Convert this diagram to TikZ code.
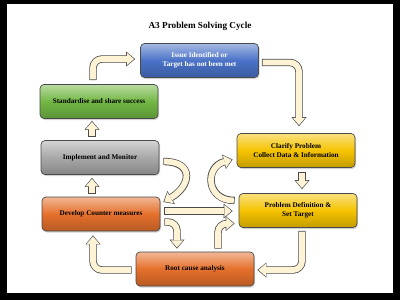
\documentclass[tikz,border=0pt]{standalone}
\usepackage{fontspec}
\setmainfont{Liberation Serif}
\usetikzlibrary{positioning, arrows.meta, shadows}
\definecolor{borde}{HTML}{4A4A4A}
\definecolor{crema}{HTML}{FFF3D6}
\definecolor{azul}{HTML}{4A72C8}
\definecolor{verde}{HTML}{72B744}
\definecolor{gris}{HTML}{A8A8A8}
\definecolor{naranja}{HTML}{E5702C}
\definecolor{amarillo}{HTML}{F5C300}
\tikzset{
	caja/.style={draw=borde, line width=0.7pt, rounded corners=4pt, minimum width=118pt,
		minimum height=34pt, align=center, font=\fontsize{7.2}{8.6}\selectfont\bfseries,
		top color=#1!50!white, bottom color=#1!80!black, middle color=#1,
		drop shadow={shadow xshift=1pt, shadow yshift=-1.5pt, opacity=0.35}},
	flecha/.style={draw=borde, line width=7.4pt, rounded corners=9pt,
		-{Triangle[width=15pt, length=9pt, line width=0pt]},
		postaction={draw=crema, line width=5.8pt, rounded corners=9pt,
			shorten >=1.1pt, shorten <=0.8pt,
			-{Triangle[width=12.6pt, length=7.3pt, line width=0pt]}}}
}
\begin{document}
\begin{tikzpicture}[x=1pt, y=-1pt]
	\useasboundingbox (0,0) rectangle (400,300);
	\fill[black] (0,0) rectangle (400,300);
	\fill[white] (7,4) rectangle (393,293);
	\node[font=\fontsize{9.2}{11}\selectfont\bfseries] (titulo) at (200,26) {A3 Problem Solving Cycle};
	% cajas del ciclo
	\foreach \n/\x/\y/\c/\tc/\t in {problema/199.5/60.5/azul/white/{Issue Identified or\\Target has not been met},
	                                estandar/99/101.5/verde/black/{Standardise and share success},
	                                implementar/100/157.5/gris/black/{Implement and Monitor},
	                                contramedidas/101/214/naranja/black/{Develop Counter measures},
	                                aclarar/296/150.5/amarillo/black/{Clarify Problem\\Collect Data \& Information},
	                                definicion/298/210.5/amarillo/black/{Problem Definition \&\\Set Target},
	                                causa/195/269/naranja/black/{Root cause analysis}} {
		\node[caja=\c, text=\tc] (\n) at (\x,\y) {\t};
	}
	% flechas
	\draw[flecha] ([xshift=-6pt,yshift=4pt]estandar.north) |- ([xshift=-5pt,yshift=1.5pt]problema.west);
	\draw[flecha] ([xshift=3pt,yshift=-2pt]problema.east) -| ([xshift=3pt,yshift=7pt]aclarar.north);
	\draw[flecha] ([xshift=6pt,yshift=-4pt]aclarar.south) -- ([xshift=4pt,yshift=4pt]definicion.north);
	\draw[flecha] ([xshift=4pt,yshift=-3pt]definicion.south) |- ([xshift=3pt,yshift=-1pt]causa.east);
	\draw[flecha] ([xshift=-4pt,yshift=-1pt]causa.west) -| ([xshift=-8pt,yshift=-4pt]contramedidas.south);
	\draw[flecha] ([xshift=-9pt,yshift=3pt]contramedidas.north) -- ([xshift=-8pt,yshift=-3pt]implementar.south);
	\draw[flecha] ([xshift=-8pt,yshift=3pt]implementar.north) -- ([xshift=-7pt,yshift=-2pt]estandar.south);
	\draw[flecha] ([xshift=4pt,yshift=-4pt]implementar.east) to[out=0, in=30, looseness=2] ([xshift=3pt,yshift=12pt]contramedidas.east);
	\draw[flecha] ([xshift=4pt,yshift=3pt]contramedidas.east) -- ([xshift=-6pt,yshift=-0.5pt]definicion.west);
	\draw[flecha] ([xshift=4pt,yshift=-8pt]contramedidas.east) -| ([xshift=-18pt,yshift=3pt]causa.north);
	\draw[flecha] ([xshift=23pt,yshift=3pt]causa.north) |- ([xshift=-4pt,yshift=-13pt]definicion.west);
	\draw[flecha] ([xshift=-4pt,yshift=10pt]definicion.west) to[out=180, in=195, looseness=1.8] ([xshift=-4pt,yshift=-9pt]aclarar.west);
\end{tikzpicture}
\end{document}
